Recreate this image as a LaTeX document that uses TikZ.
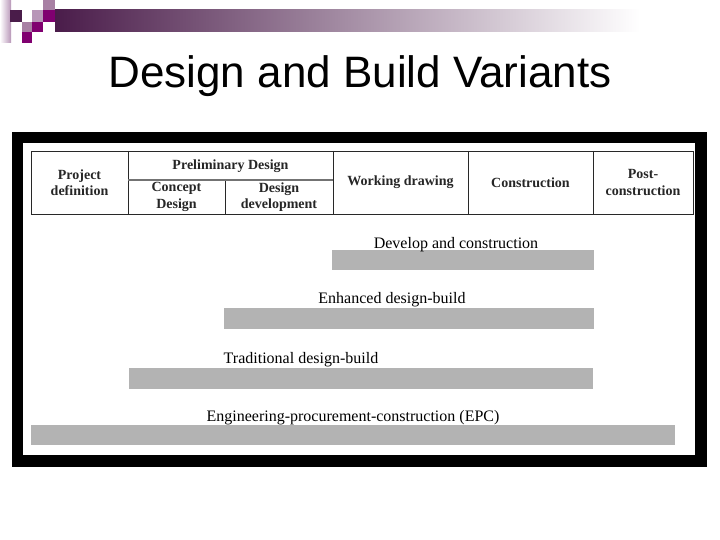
\documentclass[tikz,border=0pt]{standalone}
\usepackage{fontspec}
\setmainfont{Liberation Serif}
\newfontfamily\titlefont{Liberation Sans}
\definecolor{dpurple}{RGB}{74,28,74}
\definecolor{purp}{RGB}{128,0,112}
\definecolor{mauve}{RGB}{168,128,164}
\definecolor{lmauve}{RGB}{184,150,184}
\definecolor{barg}{RGB}{179,179,179}
\definecolor{tline}{RGB}{40,40,40}
\tikzset{
  cell/.style={font=\bfseries\fontsize{14}{16.5}\selectfont, align=center, text=black!85},
  barlabel/.style={font=\fontsize{16}{18}\selectfont, anchor=base, inner sep=0pt},
  bar/.style={fill=barg, draw=none},
  tl/.style={draw=tline, line width=0.9pt}
}
\begin{document}
\begin{tikzpicture}[x=1pt,y=-1pt]
\useasboundingbox (0,0) rectangle (720,540);
\fill[white] (0,0) rectangle (720,540);
% header decoration
\shade[left color=white, right color=lmauve] (0,0) rectangle (11,43);
\shade[left color=dpurple, right color=white] (55,10) rectangle (640,32);
\fill[white] (640,10) rectangle (720,32);
\fill[mauve] (43,0) rectangle (55,10);
\fill[dpurple] (10,10) rectangle (22,22);
\fill[lmauve] (32,10) rectangle (43,22);
\fill[purp] (43,10) rectangle (55,22);
\fill[mauve] (22,22) rectangle (32,32);
\fill[purp] (32,22) rectangle (43,32);
\fill[purp] (22,32) rectangle (32,43);
% title
\node[font=\titlefont\fontsize{44}{50}\selectfont, anchor=base, inner sep=0pt] (title) at (360,88) {Design and Build Variants};
% frame
\fill[black] (12,132) rectangle (707,467);
\fill[white] (23,143) rectangle (695,455);
% table
\draw[tl] (31,151) rectangle (693,214);
\draw[tl] (128,151) -- (128,214);
\draw[tl] (333,151) -- (333,214);
\draw[tl] (468,151) -- (468,214);
\draw[tl] (593,151) -- (593,214);
\draw[tl] (225,180) -- (225,214);
\draw[draw=black!55, line width=1.6pt] (128,180) -- (333,180);
\node[cell] (pd) at (79.5,182.5) {Project\\definition};
\node[cell] (prelim) at (230.5,166) {Preliminary Design};
\node[cell] (concept) at (176.5,197) {Concept\\Design};
\node[cell] (ddev) at (279,197) {Design\\development};
\node[cell] (wd) at (400.5,182.5) {Working drawing};
\node[cell] (con) at (530.5,182.5) {Construction};
\node[cell] (post) at (643,182.5) {Post-\\construction};
% bars
\fill[bar] (332,250) rectangle (594,270);
\fill[bar] (224,308) rectangle (594,329);
\fill[bar] (129,368) rectangle (593,389);
\fill[bar] (31,425) rectangle (675,445);
\node[barlabel] (l1) at (456,248) {Develop and construction};
\node[barlabel] (l2) at (392,303) {Enhanced design-build};
\node[barlabel] (l3) at (301,363) {Traditional design-build};
\node[barlabel] (l4) at (353,421) {Engineering-procurement-construction (EPC)};
\end{tikzpicture}
\end{document}
